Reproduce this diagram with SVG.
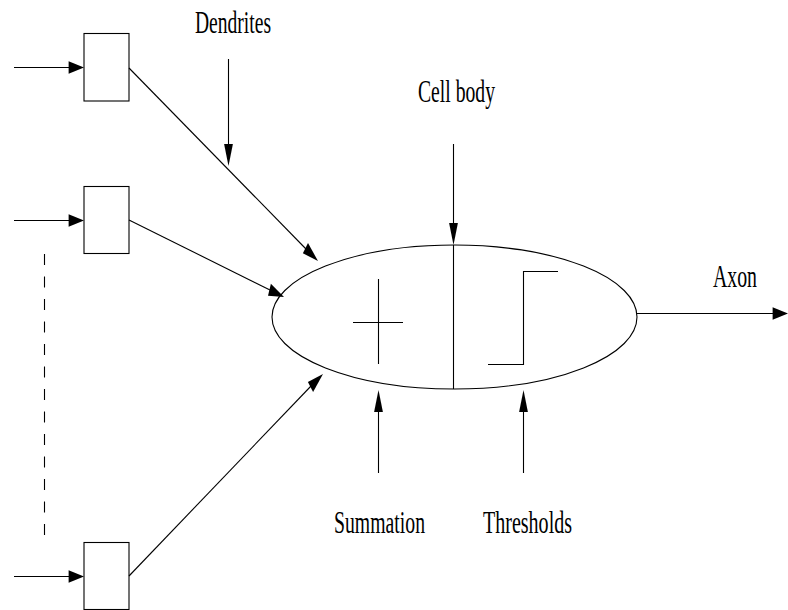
<svg xmlns="http://www.w3.org/2000/svg" width="788" height="610" viewBox="0 0 788 610">
  <style>
    .ln { stroke: #000; stroke-width: 1.1; fill: none; }
    .head { fill: #000; stroke: none; }
    .box { fill: #fff; stroke: #000; stroke-width: 1.1; }
    .lbl { font-family: "Liberation Serif", "Times New Roman", serif; font-size: 32px; fill: #000; }
  </style>
  <rect width="788" height="610" fill="#fff"/>

  <!-- input synapse boxes -->
  <g id="input1"><rect class="box" x="84" y="33.5" width="45" height="67.5"/></g>
  <g id="input2"><rect class="box" x="84" y="186.5" width="45" height="67"/></g>
  <g id="input3"><rect class="box" x="84" y="542.5" width="45" height="67"/></g>

  <!-- neuron cell body with summation and threshold symbols -->
  <g id="cell-body">
    <ellipse class="ln" cx="454.5" cy="317" rx="182.5" ry="72"/>
    <line class="ln" x1="453.5" y1="245" x2="453.5" y2="389"/>
  </g>
  <g id="summation-symbol">
    <line class="ln" x1="378.5" y1="279" x2="378.5" y2="364"/>
    <line class="ln" x1="353" y1="322.5" x2="403" y2="322.5"/>
  </g>
  <g id="threshold-symbol">
    <polyline class="ln" points="488,364.5 523.5,364.5 523.5,271.5 558,271.5"/>
  </g>

  <!-- labels -->
  <g id="label-dendrites"><text class="lbl" x="195" y="33" textLength="76" lengthAdjust="spacingAndGlyphs">Dendrites</text></g>
  <g id="label-cell-body"><text class="lbl" x="418" y="102" textLength="77" lengthAdjust="spacingAndGlyphs">Cell body</text></g>
  <g id="label-axon"><text class="lbl" x="713" y="287" textLength="44" lengthAdjust="spacingAndGlyphs">Axon</text></g>
  <g id="label-summation"><text class="lbl" x="334" y="533" textLength="91" lengthAdjust="spacingAndGlyphs">Summation</text></g>
  <g id="label-thresholds"><text class="lbl" x="483" y="533" textLength="89" lengthAdjust="spacingAndGlyphs">Thresholds</text></g>

  <!-- connectors -->
  <g id="connectors">
    <!-- inputs into boxes -->
    <line class="ln" x1="14" y1="67.5" x2="72" y2="67.5"/>
    <polygon class="head" points="84,67.5 68.6,61.2 68.6,73.8"/>
    <line class="ln" x1="14" y1="220.5" x2="72" y2="220.5"/>
    <polygon class="head" points="84,220.5 68.6,214.2 68.6,226.8"/>
    <line class="ln" x1="14" y1="576.5" x2="72" y2="576.5"/>
    <polygon class="head" points="84,576.5 68.6,570.2 68.6,582.8"/>

    <!-- more inputs elided -->
    <line class="ln" x1="44.5" y1="254" x2="44.5" y2="537" stroke-dasharray="11 11.5"/>

    <!-- boxes to cell body -->
    <line class="ln" x1="129" y1="68" x2="306" y2="249"/>
    <polygon class="head" points="318,261 302.9,253.3 308.0,243.1"/>
    <line class="ln" x1="129" y1="220" x2="272" y2="291"/>
    <polygon class="head" points="284,297 268.0,295.7 270.9,283.8"/>
    <line class="ln" x1="129" y1="576" x2="312" y2="385"/>
    <polygon class="head" points="323,374 313.1,392.1 307.9,381.9"/>

    <!-- axon output -->
    <line class="ln" x1="637" y1="313.5" x2="775" y2="313.5"/>
    <polygon class="head" points="788,313.5 772.6,307.2 772.6,319.8"/>

    <!-- label pointers -->
    <line class="ln" x1="228.5" y1="59" x2="228.5" y2="146"/>
    <polygon class="head" points="228.5,166 224.1,144 232.9,144"/>
    <line class="ln" x1="453.5" y1="144" x2="453.5" y2="225"/>
    <polygon class="head" points="453.5,245 449.1,223 457.9,223"/>
    <line class="ln" x1="378.5" y1="473" x2="378.5" y2="410"/>
    <polygon class="head" points="378.5,390 374.1,412 382.9,412"/>
    <line class="ln" x1="523.5" y1="473" x2="523.5" y2="410"/>
    <polygon class="head" points="523.5,390 519.1,412 527.9,412"/>
  </g>
</svg>
